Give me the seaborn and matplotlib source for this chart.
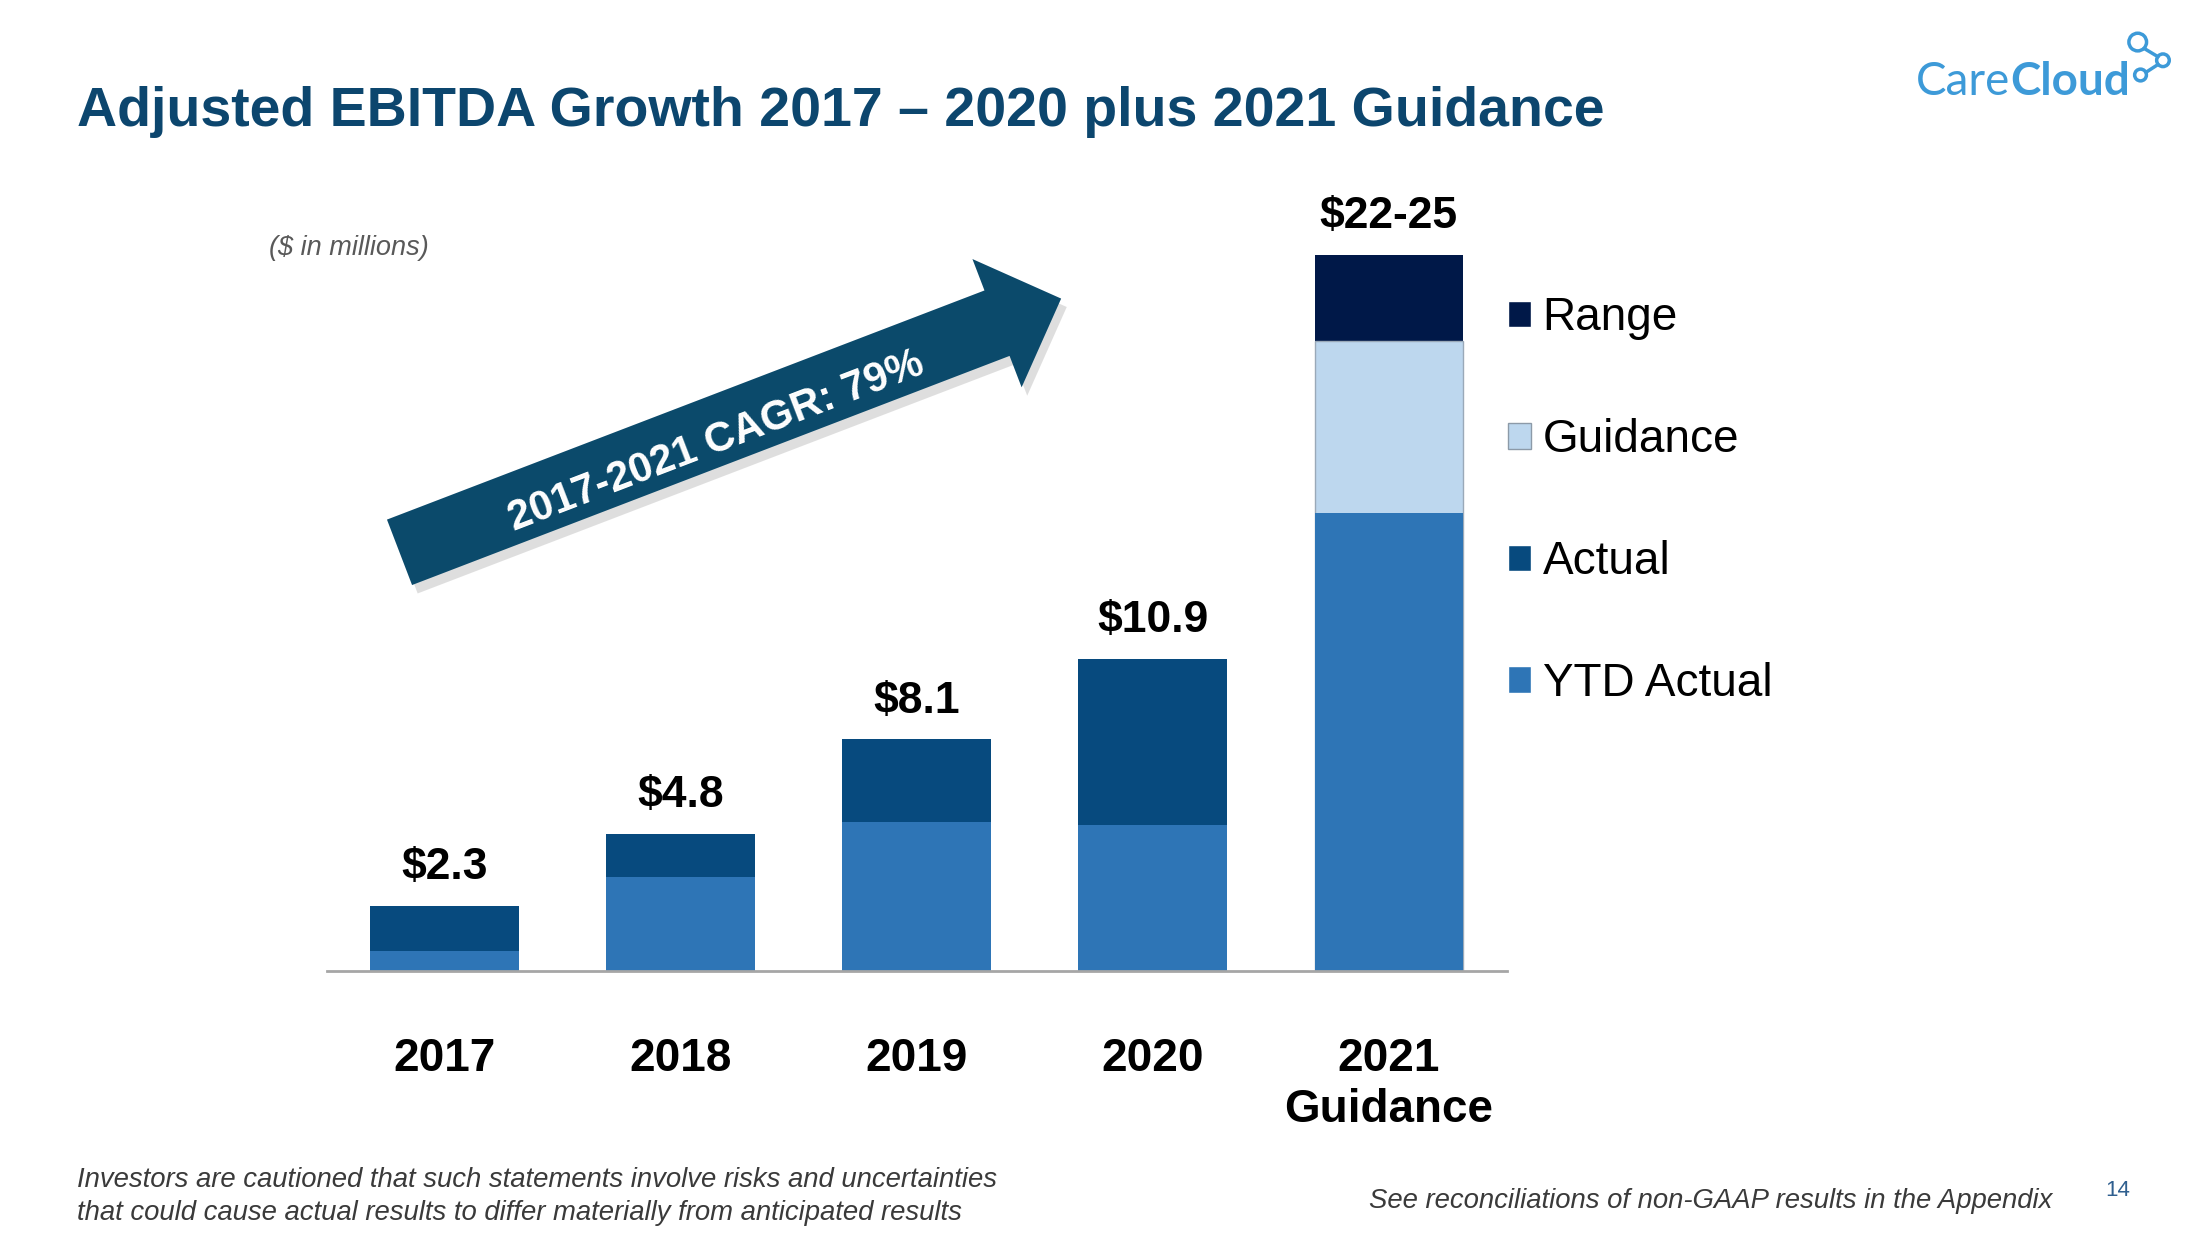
import matplotlib
matplotlib.use("Agg")
import matplotlib.pyplot as plt
import seaborn as sns
import pandas as pd
from matplotlib.patches import FancyArrow, Circle, Patch

# ─── Data ($ in millions) ───────────────────────────────────
years     = ["2017", "2018", "2019", "2020", "2021\nGuidance"]
ytd       = [0.7, 3.3, 5.2, 5.1, 16.0]
actual    = [1.6, 1.5, 2.9, 5.8, 0.0]
guidance  = [0.0, 0.0, 0.0, 0.0, 6.0]
rng_part  = [0.0, 0.0, 0.0, 0.0, 3.0]
labels    = ["$2.3", "$4.8", "$8.1", "$10.9", "$22-25"]

C_YTD, C_ACT, C_GUI, C_RNG = "#2E75B6", "#074A7E", "#BDD7EE", "#001848"
C_TITLE, C_ARROW, C_LOGO = "#0C466E", "#0B4A6B", "#3D9AD8"

df = pd.DataFrame({"year": years, "ytd": ytd, "actual": actual,
                   "guidance": guidance, "range": rng_part})
df["c_act"] = df["ytd"] + df["actual"]
df["c_gui"] = df["c_act"] + df["guidance"]
df["c_rng"] = df["c_gui"] + df["range"]

sns.set_style("white")
plt.rcParams["font.family"] = ["Liberation Sans", "DejaVu Sans"]
plt.rcParams["text.color"] = "black"
plt.rcParams["xtick.color"] = "black"

# slide units: 1568 x 881 (same aspect as the 2198 x 1235 figure)
UW, UH = 1568, 881
fig = plt.figure(figsize=(21.98, 12.35), dpi=100)

ov = fig.add_axes([0, 0, 1, 1], zorder=0)
ov.set_xlim(0, UW); ov.set_ylim(UH, 0); ov.axis("off")

ax = fig.add_axes([233/UW, 1-693/UH, (1075-233)/UW, 26*20.45/UH], zorder=1)
ax.patch.set_alpha(0)

# stacked bars drawn as cumulative layers
W = 0.63
sns.barplot(data=df, x="year", y="c_rng", order=years, color=C_RNG, saturation=1,
            width=W, ax=ax, label="Range", linewidth=0)
sns.barplot(data=df, x="year", y="c_gui", order=years, color=C_GUI, saturation=1,
            width=W, ax=ax, label="Guidance", linewidth=0)
sns.barplot(data=df, x="year", y="c_act", order=years, color=C_ACT, saturation=1,
            width=W, ax=ax, label="Actual", linewidth=0)
sns.barplot(data=df, x="year", y="ytd", order=years, color=C_YTD, saturation=1,
            width=W, ax=ax, label="YTD Actual", linewidth=0)
gp = ax.containers[1][4]
gp.set_edgecolor("#9AA9B8"); gp.set_linewidth(1)

for i, (tot, lab) in enumerate(zip(df["c_rng"], labels)):
    ax.annotate(lab, (i, tot), xytext=(0, 38), textcoords="offset pixels",
                ha="center", va="center", fontsize=32, fontweight="bold", color="black")

ax.set_xlim(-0.5, 4.5); ax.set_ylim(0, 26)
ax.set_xlabel(""); ax.set_ylabel(""); ax.set_yticks([])
for s in ["top", "right", "left"]:
    ax.spines[s].set_visible(False)
ax.spines["bottom"].set_color("#A6A6A6"); ax.spines["bottom"].set_linewidth(2)
ax.tick_params(axis="x", length=0, labelsize=33, pad=47, labelcolor="black")
for t in ax.get_xticklabels():
    t.set_fontweight("bold"); t.set_linespacing(1.2)

handles = [Patch(facecolor=C_RNG), Patch(facecolor=C_GUI, edgecolor="#8C9AA8", linewidth=1),
           Patch(facecolor=C_ACT), Patch(facecolor=C_YTD)]
leg = ax.legend(handles, ["Range", "Guidance", "Actual", "YTD Actual"], loc="upper left",
                bbox_to_anchor=(1076/UW, 1-296/1235), bbox_transform=fig.transFigure,
                frameon=False, fontsize=33, borderpad=0, borderaxespad=0, labelspacing=1.7,
                handlelength=0.5, handleheight=0.5, handletextpad=0.25)
for t in leg.get_texts():
    t.set_color("black")

# title, notes
ov.text(55, 90, "Adjusted EBITDA Growth 2017 \u2013 2020 plus 2021 Guidance",
        fontsize=40, fontweight="bold", color=C_TITLE, va="baseline", ha="left")
ov.text(192, 177, "($ in millions)", fontsize=19.5, style="italic", color="#595959",
        va="center", ha="left")
ov.text(55, 842, "Investors are cautioned that such statements involve risks and uncertainties",
        fontsize=19.8, style="italic", color="#3A3A3A", va="center", ha="left")
ov.text(55, 865, "that could cause actual results to differ materially from anticipated results",
        fontsize=19.8, style="italic", color="#3A3A3A", va="center", ha="left")
ov.text(1464, 857, "See reconciliations of non-GAAP results in the Appendix",
        fontsize=19.8, style="italic", color="#3A3A3A", va="center", ha="right")
ov.text(1511, 849, "14", fontsize=16, color="#2F5F8F", va="center", ha="center")

# CAGR arrow
ov.add_patch(FancyArrow(289, 400, 472, -181, width=50, head_width=98, head_length=49,
                        length_includes_head=True, color="#BFBFBF", alpha=0.5, lw=0))
ov.add_patch(FancyArrow(285, 394, 472, -181, width=50, head_width=98, head_length=49,
                        length_includes_head=True, color=C_ARROW, lw=0))
ov.text(511, 315, "2017-2021 CAGR: 79%", rotation=21, rotation_mode="anchor",
        ha="center", va="center", fontsize=30, fontweight="bold", color="white")

# logo
t1 = ov.text(1367, 68, "Care", fontsize=33, color=C_LOGO, va="baseline", ha="left",
             family="Lato")
ov.annotate("Cloud", xy=(1, 0), xycoords=t1, va="bottom", ha="left", fontsize=33,
            color=C_LOGO, fontweight="bold", family="Lato")
for (cx, cy, r) in [(1525, 30, 6.3), (1543, 43, 4.5), (1527, 53.5, 4.2)]:
    ov.add_patch(Circle((cx, cy), r, fill=False, ec=C_LOGO, lw=2.5))
ov.plot([1529.5, 1539.5], [34.5, 40.5], color=C_LOGO, lw=2.5)
ov.plot([1539.5, 1531], [46, 51.5], color=C_LOGO, lw=2.5)

fig.savefig("out.png", dpi=100)
